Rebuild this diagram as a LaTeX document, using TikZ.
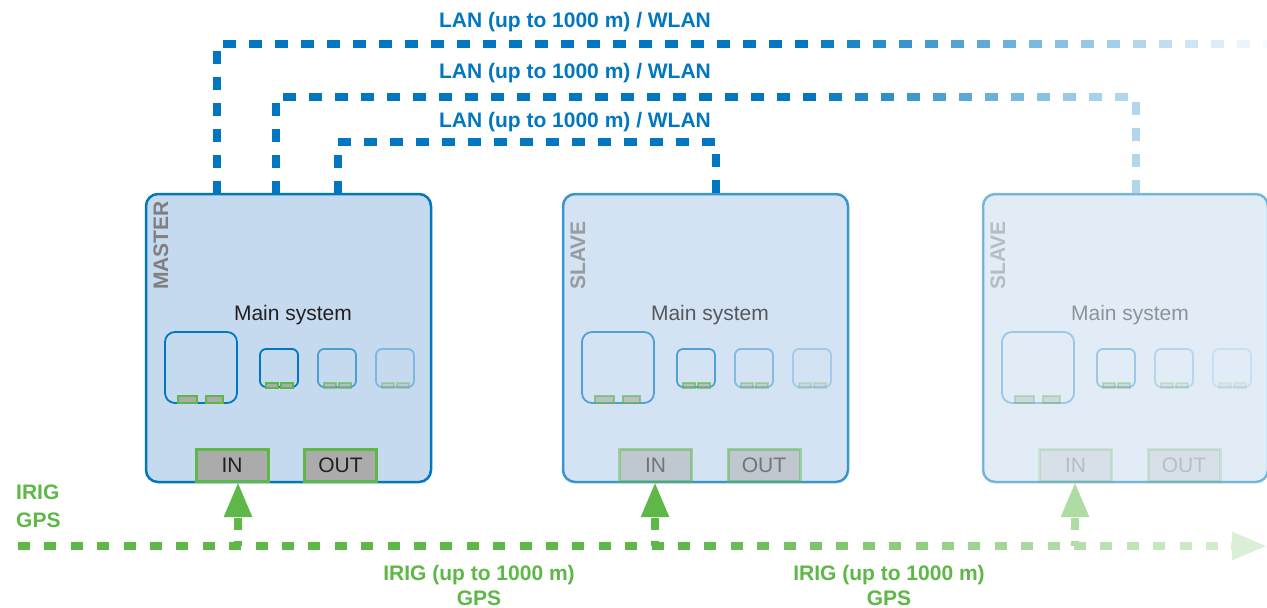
\documentclass[tikz,border=0pt]{standalone}
\usepackage{fontspec}
\setmainfont{Liberation Sans}
\usepackage{tikz}
\usetikzlibrary{positioning,arrows.meta,calc}

\definecolor{lanblue}{HTML}{0077C0}
\definecolor{irigreen}{HTML}{5DB847}
\definecolor{boxblue}{HTML}{C5DAEF}
\definecolor{portgray}{HTML}{ABABAB}
\definecolor{rolegray}{HTML}{7F7F7F}
\definecolor{textdark}{HTML}{231F20}

\begin{document}
\begin{tikzpicture}[x=1pt,y=-1pt,
  txt/.style={font=\fontsize{21}{25}\selectfont,inner sep=0pt},
  boldtxt/.style={font=\fontsize{21}{25}\selectfont\bfseries,inner sep=0pt},
  unitbox/.style={draw=lanblue,fill=boxblue,line width=2.5pt,rounded corners=12pt,
    minimum width=285pt,minimum height=288pt,inner sep=0pt,outer sep=0pt},
  module/.style={draw=lanblue,line width=1.8pt},
  socket/.style={draw=irigreen,fill=portgray,line width=1.2pt},
  portbox/.style={txt,draw=irigreen,fill=portgray,text=textdark,line width=3pt,
    minimum width=72pt,minimum height=32pt,outer sep=0pt},
  lanlink/.style={lanblue,line width=8pt,dash pattern=on 13pt off 13pt},
  lanbit/.style={line width=8pt},
  irigbit/.style={line width=8pt},
  irigtap/.style={line width=8pt,dash pattern=on 12pt off 11pt,dash phase=7pt,
    -{Triangle[length=35pt,width=26pt]}}]
\path[use as bounding box,fill=white] (0,0) rectangle (1267,608);

% IRIG / GPS time line along the bottom
\coordinate (irig-a) at (18,546);
\coordinate (irig-b) at (1267,546);

% master and slave units (the slaves drawn paler)
\foreach \name/\bx/\role/\op/\px/\ap in {master/146/MASTER/1/86/100,slave1/563/SLAVE/0.75/92.5/100,slave2/983/SLAVE/0.5/92.5/50}{
\pgfmathsetmacro\txtop{\op^1.2}
\pgfmathsetmacro\modop{\op^1.7}
\pgfmathsetmacro\portop{\op^2.5}
\begin{scope}[shift={(\bx,194)},opacity=\op]
\node[unitbox] (\name) at (142.5,144) {};
\node[boldtxt,text=rolegray,rotate=90,anchor=west,opacity=\txtop] (\name-role) at (15,96) {\role};
\node[txt,text=textdark,anchor=base,opacity=\txtop] (\name-title) at (147,126) {Main system};
% big module with two sockets
\begin{scope}[opacity=\modop]
\draw[module,rounded corners=10pt] (19,138) rectangle (91,209);
\draw[socket] (32,202) rectangle (51,209);
\draw[socket] (60,202) rectangle (77,209);
\end{scope}
% small modules, each one paler than the last
\foreach \mx/\mo in {114/1,172/0.6,230/0.35}{
  \pgfmathsetmacro\mop{\modop*\mo}
  \draw[module,rounded corners=6pt,opacity=\mop] (\mx,155) rectangle ++(38,38);
  \draw[socket,opacity=\mop] (\mx+6,189) rectangle ++(12,5);
  \draw[socket,opacity=\mop] (\mx+21,189) rectangle ++(12,5);
}
\node[portbox,opacity=\portop] (\name-in) at (\px,271) {IN};
\node[portbox,opacity=\portop] (\name-out) at (\px+108.5,271) {OUT};
\end{scope}
% time signal fed up into IN
\coordinate (\name-feed) at ($(\name.south west)+(92,0)$);
\draw[irigtap,irigreen!\ap!white] (\name-feed |- irig-a) -- (\name-feed);
}

% dashes of the time line, paling out to the right
\foreach \j in {0,...,45}{
  \pgfmathsetmacro\pct{min(100,100-3.6*(\j-25))}
  \draw[irigbit,irigreen!\pct!white] ($(irig-a)+(26.4*\j,0)$) -- ++(12,0);
}
\draw[irigbit,irigreen!22!white,-{Triangle[length=35pt,width=26pt]}] ($(irig-b)+(-36,0)$) -- (irig-b);
\node[boldtxt,text=irigreen,align=left,anchor=north west] (irig-src) at (16,485) {IRIG\\[3pt]GPS};
\node[boldtxt,text=irigreen,align=center,anchor=north] (irig-lbl1) at (479,565) {IRIG (up to 1000 m)\\GPS};
\node[boldtxt,text=irigreen,align=center,anchor=north] (irig-lbl2) at (889,565) {IRIG (up to 1000 m)\\GPS};

% LAN / WLAN link 1: master to the right edge
\coordinate (lan1-corner) at ($(master.north west)+(71,-150)$);
\draw[lanlink] ($(master.north west)+(71,0)$) -- (lan1-corner) -- ++(578,0);
\foreach \j in {0,...,18}{
  \pgfmathsetmacro\pct{100-5.4*\j}
  \draw[lanbit,lanblue!\pct!white] ($(lan1-corner)+(578+26*\j,0)$) -- ++(13,0);
}
% link 2: master to the second slave
\coordinate (lan2-corner) at ($(master.north west)+(130,-97)$);
\draw[lanlink] ($(master.north west)+(130,0)$) -- (lan2-corner) -- ++(527,0);
\foreach \j in {0,...,11}{
  \pgfmathsetmacro\pct{100-6*\j}
  \draw[lanbit,lanblue!\pct!white] ($(lan2-corner)+(527+26*\j,0)$) -- ++(13,0);
}
\draw[lanlink,lanblue!30!white] ($(lan2-corner)+(839,0)$) -| ($(slave2.north west)+(153,0)$);
% link 3: master to the first slave
\draw[lanlink] ($(master.north west)+(192,0)$) -- ++(0,-52) -| ($(slave1.north west)+(153,0)$);
\node[boldtxt,text=lanblue,anchor=base] (lan1) at (575,27) {LAN (up to 1000 m) / WLAN};
\node[boldtxt,text=lanblue,anchor=base] (lan2) at (575,78) {LAN (up to 1000 m) / WLAN};
\node[boldtxt,text=lanblue,anchor=base] (lan3) at (575,127) {LAN (up to 1000 m) / WLAN};
\end{tikzpicture}
\end{document}
